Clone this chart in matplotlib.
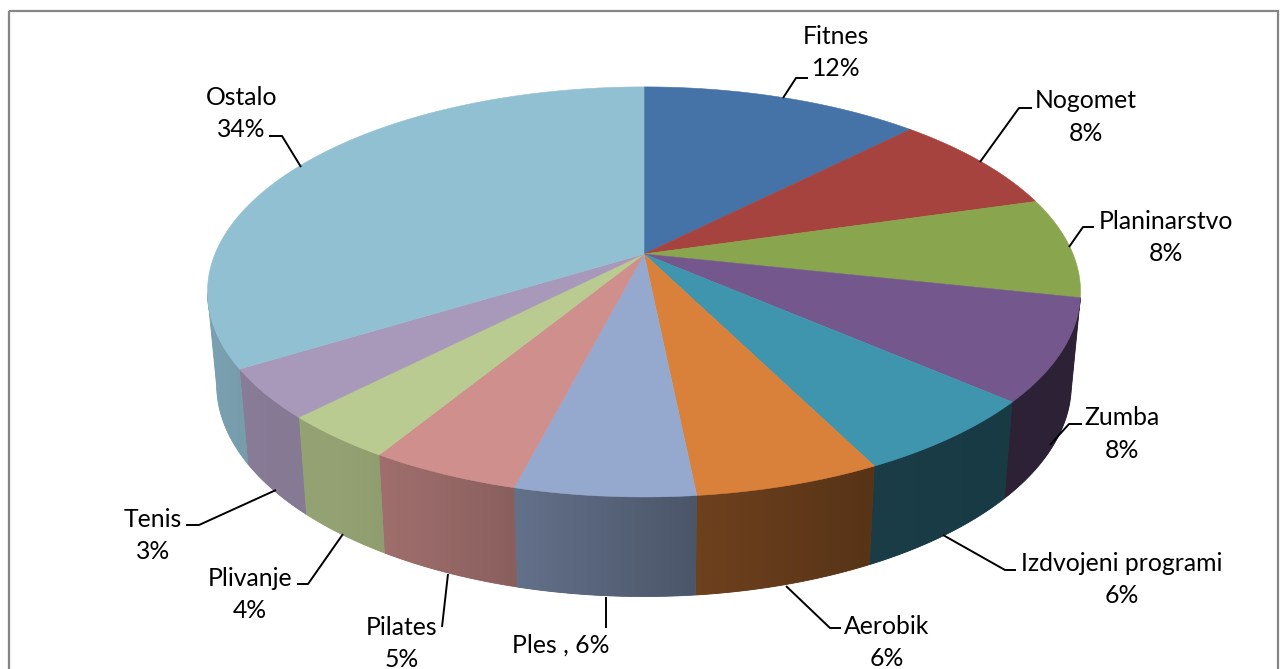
import matplotlib
matplotlib.use("Agg")
import matplotlib.pyplot as plt
import numpy as np
from matplotlib.patches import Polygon, Rectangle

plt.rcParams["font.family"] = ["Lato", "DejaVu Sans"]

# Slices, clockwise from 12 o'clock
categories = ["Fitnes", "Nogomet", "Planinarstvo", "Zumba", "Izdvojeni programi", "Aerobik",
              "Ples", "Pilates", "Plivanje", "Tenis", "Ostalo"]
values = [12.4, 8.1, 7.9, 8.0, 6.2, 5.8, 5.6, 4.7, 3.6, 3.9, 33.8]
percent_labels = [12, 8, 8, 8, 6, 6, 6, 5, 4, 3, 34]
colors = ["#4572A7", "#A7433F", "#89A54E", "#74578C", "#3F95AE", "#D9803A",
          "#95A9CF", "#CE8F8D", "#B9CB90", "#A898BA", "#92C0D3"]

# Label centres and leader lines, in pixels
label_pos = [(836, 52.5), (1086, 117), (1166, 237.5), (1122, 434), (1122, 579.5), (887, 642.5),
             (561, 645.5), (402, 643.5), (250, 594.5), (153, 535.5), (241.5, 113.5)]
leaders = [
    [(783, 98), (796, 78), (808, 78)],
    [(980, 162), (1019, 108), (1032, 108)],
    [(1069, 247), (1083, 227), (1094, 227)],
    [(1050, 445), (1069, 424), (1082, 424)],
    [(943, 535), (1005, 570), (1016, 570)],
    [(786, 586), (830, 628), (841, 628)],
    [(606, 597), (606, 628)],
    [(448, 574), (442, 627)],
    [(343, 534), (308, 584), (297, 584)],
    [(276, 490), (199, 525), (186, 525)],
    [(301, 167), (282, 136), (269, 136)],
]

CX = 644
PERSP = 0.185
WALL_FROM = np.radians(102.3)
WALL_TO = np.radians(259)


def project(theta, ax_x, ax_y, y0):
    # perspective view of a unit circle, theta clockwise from top
    x = np.sin(theta)
    y = np.cos(theta)
    w = 1 + PERSP * y
    return CX + ax_x * x / w, y0 - ax_y * y / w


def top_rim(theta):
    return project(theta, 429, 198, 254)


def bottom_rim(theta):
    return project(theta, 420, 205, 345)


def wall_shade(x):
    return np.interp(x, [210, 270, 340, 400, 510, 695, 860, 1080],
                     [0.84, 0.80, 0.80, 0.76, 0.67, 0.51, 0.41, 0.38])


fig = plt.figure(figsize=(12.81, 6.69), dpi=100)
ax = fig.add_axes([0, 0, 1, 1])
ax.axis("off")

ax.add_patch(Rectangle((9, 11), 1269, 700, fill=False, edgecolor="#868686", linewidth=1.6))

edges = np.cumsum([0] + values) / sum(values) * 2 * np.pi

# Side wall first, each slice a horizontal gradient clipped to its outline
for i, color in enumerate(colors):
    lo = max(edges[i], WALL_FROM)
    hi = min(edges[i + 1], WALL_TO)
    if hi <= lo:
        continue
    th = np.linspace(lo, hi, 80)
    xt, yt = top_rim(th)
    xb, yb = bottom_rim(th)
    outline = np.c_[np.r_[xt, xb[::-1]], np.r_[yt, yb[::-1]]]
    x0, x1 = outline[:, 0].min(), outline[:, 0].max()
    y0, y1 = outline[:, 1].min(), outline[:, 1].max()
    gx = np.linspace(x0, x1, 128)
    rgb = np.array(matplotlib.colors.to_rgb(color))
    grad = (rgb[None, :] * wall_shade(gx)[:, None])[None, :, :]
    mid = tuple(rgb * wall_shade((x0 + x1) / 2))
    base = Polygon(outline, closed=True, facecolor=mid, edgecolor=mid, linewidth=0.6, zorder=2)
    ax.add_patch(base)
    im = ax.imshow(grad, extent=[x0, x1, y1, y0], aspect="auto", interpolation="bilinear", zorder=2.1)
    clip = Polygon(outline, closed=True, transform=ax.transData)
    im.set_clip_path(clip)

# Top face
for i, color in enumerate(colors):
    th = np.linspace(edges[i], edges[i + 1], 120)
    xs, ys = top_rim(th)
    ax.fill(np.r_[CX, xs], np.r_[254, ys], color=color, linewidth=0.4, zorder=3)

for pts in leaders:
    xs, ys = zip(*pts)
    ax.plot(xs, ys, color="black", linewidth=1.4, solid_capstyle="butt", zorder=4)

for name, pct, (lx, ly) in zip(categories, percent_labels, label_pos):
    txt = f"{name} , {pct}%" if name == "Ples" else f"{name}\n{pct}%"
    ax.text(lx, ly, txt, ha="center", va="center", fontsize=17.8, linespacing=1.48,
            color="black", zorder=5)

ax.set_xlim(0, 1281)
ax.set_ylim(669, 0)

fig.savefig("out.png", dpi=100)
